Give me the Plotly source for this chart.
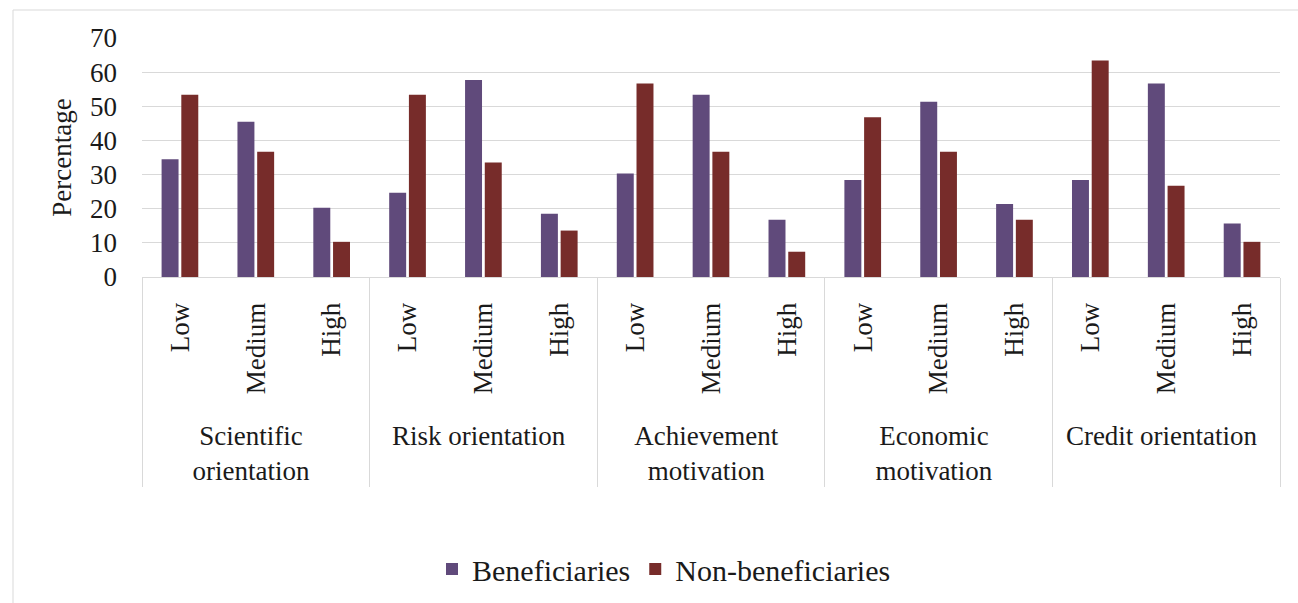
import plotly.graph_objects as go

groups = ["Scientific<br>orientation", "Risk orientation", "Achievement<br>motivation",
          "Economic<br>motivation", "Credit orientation"]
levels = ["Low", "Medium", "High"]
series_names = ["Beneficiaries", "Non-beneficiaries"]
beneficiaries = [34.5, 45.5, 20.3,
                 24.7, 57.7, 18.5,
                 30.3, 53.4, 16.8,
                 28.4, 51.3, 21.4,
                 28.4, 56.7, 15.7]
non_beneficiaries = [53.4, 36.7, 10.3,
                     53.4, 33.5, 13.6,
                     56.7, 36.7, 7.4,
                     46.8, 36.7, 16.8,
                     63.4, 26.7, 10.3]
y_ticks = [0, 10, 20, 30, 40, 50, 60, 70]

PAD = "\u00a0\u00a0"  # visual padding below rotated level labels
outer = [g for g in groups for _ in levels]
inner = [PAD + lv for _ in groups for lv in levels]

FONT = "Liberation Serif"
W, H = 1298, 603
L, R, T, B = 142, 18, 38, 326
pw, ph = W - L - R, H - T - B

fig = go.Figure()
fig.add_trace(go.Bar(x=[outer, inner], y=beneficiaries, name=series_names[0],
                     marker=dict(color="#604a7b", line=dict(width=0))))
fig.add_trace(go.Bar(x=[outer, inner], y=non_beneficiaries, name=series_names[1],
                     marker=dict(color="#772c2a", line=dict(width=0))))

fig.update_layout(
    width=W, height=H,
    margin=dict(l=L, r=R, t=T, b=B, autoexpand=False),
    paper_bgcolor="white", plot_bgcolor="white",
    barmode="group", bargap=0.48, bargroupgap=0.14,
    font=dict(family=FONT, color="#1a1a1a", size=28),
    legend=dict(orientation="h", xref="container", yref="container",
                x=664 / W, xanchor="center",
                y=(H - 569) / H, yanchor="middle",
                font=dict(family=FONT, size=30, color="#1a1a1a"),
                itemwidth=30, tracegroupgap=0, bgcolor="rgba(0,0,0,0)"),
    xaxis=dict(type="multicategory", tickangle=-90, showgrid=False,
               showline=True, linecolor="#d9d9d9", linewidth=1,
               ticks="", showdividers=True, dividercolor="#d9d9d9", dividerwidth=1,
               tickfont=dict(family=FONT, size=27, color="#1a1a1a"),
               ticklabelstandoff=14),
    yaxis=dict(range=[0, 70], tickvals=y_ticks, showgrid=True, gridcolor="#d9d9d9",
               gridwidth=1, zeroline=False, showline=False, ticks="",
               tickfont=dict(family=FONT, size=27, color="#1a1a1a"),
               ticklabelstandoff=24,
               title=dict(text="Percentage", font=dict(family=FONT, size=27, color="#1a1a1a"),
                          standoff=10)),
    shapes=[dict(type="rect", xref="paper", yref="paper",
                 x0=(13 - L) / pw, x1=(W + 20 - L) / pw,
                 y0=(T + ph - (H + 20)) / ph, y1=(T + ph - 10) / ph,
                 line=dict(color="#d9d9d9", width=1), fillcolor="rgba(0,0,0,0)", layer="below")],
)

fig.write_html("out.html")
